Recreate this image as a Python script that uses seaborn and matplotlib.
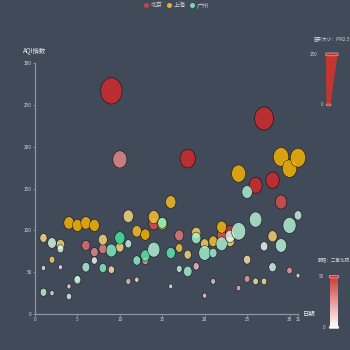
import colorsys
import numpy as np
import pandas as pd
import matplotlib
matplotlib.use("Agg")
import matplotlib.pyplot as plt
from matplotlib.path import Path
from matplotlib.transforms import Affine2D
from matplotlib.lines import Line2D
from matplotlib.patches import Polygon, FancyBboxPatch
import seaborn as sns

# ---------------- data: day, AQI, PM2.5, SO2 ----------------
days = list(range(1, 32))

bj_aqi = [55, 25, 56, 33, 42, 82, 74, 78, 267, 185, 39, 41, 64, 108, 108, 33,
          94, 186, 57, 22, 39, 94, 99, 31, 42, 154, 234, 160, 134, 52, 46]
bj_pm25 = [9, 11, 7, 7, 24, 58, 49, 55, 216, 127, 19, 11, 38, 79, 63, 6,
           66, 142, 31, 8, 15, 69, 73, 12, 27, 117, 185, 120, 96, 24, 5]
bj_so2 = [6, 9, 5, 6, 16, 33, 27, 29, 64, 27, 15, 7, 22, 41, 26, 5,
          31, 79, 14, 10, 13, 39, 48, 16, 22, 58, 69, 50, 41, 21, 6]

sh_aqi = [91, 65, 83, 109, 106, 109, 106, 89, 53, 80, 117, 99, 95, 116, 108, 134,
          79, 71, 97, 84, 87, 104, 87, 168, 65, 39, 39, 93, 188, 174, 187]
sh_pm25 = [45, 27, 60, 81, 77, 81, 77, 65, 33, 55, 81, 71, 69, 87, 80, 83,
           43, 46, 71, 57, 63, 77, 62, 128, 45, 24, 24, 68, 143, 131, 143]
sh_so2 = [23, 29, 27, 51, 51, 51, 51, 26, 17, 24, 24, 42, 50, 40, 37, 43,
          37, 25, 31, 31, 41, 48, 28, 56, 17, 17, 19, 29, 51, 50, 53]

gz_aqi = [26, 85, 78, 21, 41, 56, 64, 55, 76, 91, 84, 64, 70, 77, 109, 73,
          54, 51, 91, 73, 73, 84, 93, 99, 146, 113, 81, 56, 82, 106, 118]
gz_pm25 = [37, 62, 38, 21, 42, 52, 30, 48, 85, 81, 39, 51, 69, 105, 68, 68,
           27, 61, 71, 102, 50, 94, 77, 130, 84, 108, 48, 48, 92, 116, 50]
gz_so2 = [13, 8, 7, 9, 13, 16, 2, 26, 27, 40, 11, 23, 36, 16, 29, 34,
          12, 19, 18, 19, 20, 18, 7, 15, 17, 15, 3, 9, 13, 16, 11]

cities = ["北京", "上海", "广州"]
city_colors = ["#dd4444", "#fec42c", "#80F1BE"]

x_ticks = [0, 5, 10, 15, 20, 25, 30, 31]
y_ticks = [0, 50, 100, 150, 200, 250, 300]

# ---------------- visual mapping (like echarts visualMap) ----------------
SX, SY = 0.347, 0.425          # echarts canvas -> output scale
DPI = 100


def lightness_color(base, so2):
    r, g, b = matplotlib.colors.to_rgb(base)
    h, l, s = colorsys.rgb_to_hls(r, g, b)
    t = min(max(so2 / 50.0, 0.0), 1.0)
    L = 1.0 - 0.5 * t
    return matplotlib.colors.to_hex(colorsys.hls_to_rgb(h, L, s))


def size_area(pm):
    px = (10 + 60 * min(max(pm, 0), 250) / 250.0) * SY
    pt = px * 72.0 / DPI
    return pt * pt


rows = []
for city, base, aqi, pm, so2 in zip(cities, city_colors,
                                    [bj_aqi, sh_aqi, gz_aqi],
                                    [bj_pm25, sh_pm25, gz_pm25],
                                    [bj_so2, sh_so2, gz_so2]):
    for d, a, p, s in zip(days, aqi, pm, so2):
        rows.append(dict(city=city, day=d, aqi=a, pm25=p, so2=s,
                         color=lightness_color(base, s), area=size_area(p)))
df = pd.DataFrame(rows)

a_min, a_max = size_area(0), size_area(250)
palette = {c: c for c in df["color"].unique()}

# ---------------- figure ----------------
sns.set_style("ticks")
plt.rcParams["font.family"] = ["Noto Sans CJK SC", "DejaVu Sans"]
BG = "#404a59"
AX_COL = "#8e94a0"
TXT = "#d4d6da"

fig = plt.figure(figsize=(3.5, 3.5), dpi=DPI, facecolor=BG)
ax = fig.add_axes([35 / 350, 1 - 314 / 350, (298 - 35) / 350, (314 - 63.3) / 350])
ax.set_facecolor(BG)

ellipse = Path.unit_circle().transformed(Affine2D().scale(SX / SY, 1.0))

sns.scatterplot(data=df, x="day", y="aqi", hue="color", palette=palette,
                size="area", sizes=(a_min, a_max), size_norm=(a_min, a_max),
                marker=ellipse, alpha=0.8, edgecolor=(0, 0, 0, 0.18),
                linewidth=0.4, legend=False, ax=ax, zorder=3)
for coll in ax.collections:
    coll.set_clip_on(False)

ax.set_xlim(0, 31)
ax.set_ylim(0, 300)
ax.set_xticks(x_ticks)
ax.set_yticks(y_ticks)
ax.set_xlabel("")
ax.set_ylabel("")
for sp in ["top", "right"]:
    ax.spines[sp].set_visible(False)
for sp in ["left", "bottom"]:
    ax.spines[sp].set_color(AX_COL)
    ax.spines[sp].set_linewidth(0.9)
ax.tick_params(axis="both", colors=AX_COL, labelcolor=TXT, labelsize=3.4,
               length=1.2, width=0.6, pad=1.2, direction="out")

# ---------------- overlay in pixel coordinates ----------------
ov = fig.add_axes([0, 0, 1, 1], facecolor="none")
ov.set_xlim(0, 350)
ov.set_ylim(350, 0)
ov.axis("off")

ov.text(35, 50.7, "AQI指数", color="#eeeeee", fontsize=4.6, ha="center", va="center")
ov.text(303, 314, "日期", color="#eeeeee", fontsize=4.6, ha="left", va="center")

# legend
handles = [Line2D([], [], linestyle="none", marker="o", markersize=3.6,
                  markerfacecolor=c, markeredgewidth=0, alpha=0.85) for c in city_colors]
fig.legend(handles, cities, loc="center", bbox_to_anchor=(176 / 350, 1 - 5.2 / 350),
           ncol=3, frameon=False, fontsize=4.3, labelcolor=TXT,
           handlelength=0.9, handletextpad=0.25, columnspacing=0.7,
           borderpad=0, borderaxespad=0)

# visualMap 1: symbol size (PM2.5)
VM_RED = "#c23531"
ov.text(349.5, 38.5, "圆形大小：PM2.5", color=TXT, fontsize=3.3, ha="right", va="center")
ov.add_patch(Polygon([(326, 55), (337.5, 55), (330.5, 105), (326.3, 105)],
                     closed=True, facecolor=VM_RED, edgecolor="none"))
ov.add_patch(FancyBboxPatch((325.6, 53.0), 12.6, 2.8,
                            boxstyle="round,pad=0,rounding_size=1.3",
                            facecolor=VM_RED, edgecolor="#e9a9a9", linewidth=0.5))
ov.add_patch(FancyBboxPatch((326.2, 104.0), 4.8, 1.8,
                            boxstyle="round,pad=0,rounding_size=0.8",
                            facecolor=VM_RED, edgecolor="#e9a9a9", linewidth=0.4))
ov.text(317.5, 54.5, "250", color=TXT, fontsize=3.3, ha="right", va="center")
ov.text(323.6, 105, "0", color=TXT, fontsize=3.3, ha="right", va="center")

# visualMap 2: lightness (SO2)
ov.text(349.5, 261, "明暗：二氧化硫", color=TXT, fontsize=3.3, ha="right", va="center")
grad = np.array([matplotlib.colors.to_rgb(lightness_color(VM_RED, v))
                 for v in np.linspace(50, 0, 100)])[:, None, :]
ov.imshow(grad, extent=(330, 338, 327.3, 277), aspect="auto",
          interpolation="bilinear", zorder=2)
ov.add_patch(FancyBboxPatch((329.2, 275.6), 9.6, 2.4,
                            boxstyle="round,pad=0,rounding_size=0.8",
                            facecolor="#d03a36", edgecolor="#eaa8a8", linewidth=0.5, zorder=3))
ov.add_patch(FancyBboxPatch((329.2, 326.0), 9.6, 2.4,
                            boxstyle="round,pad=0,rounding_size=0.8",
                            facecolor="#ffffff", edgecolor="#dddddd", linewidth=0.5, zorder=3))
ov.text(324, 277, "50", color=TXT, fontsize=3.3, ha="right", va="center")
ov.text(325, 327.3, "0", color=TXT, fontsize=3.3, ha="right", va="center")
ov.set_xlim(0, 350)
ov.set_ylim(350, 0)

fig.savefig("out.png", dpi=DPI, facecolor=BG)
